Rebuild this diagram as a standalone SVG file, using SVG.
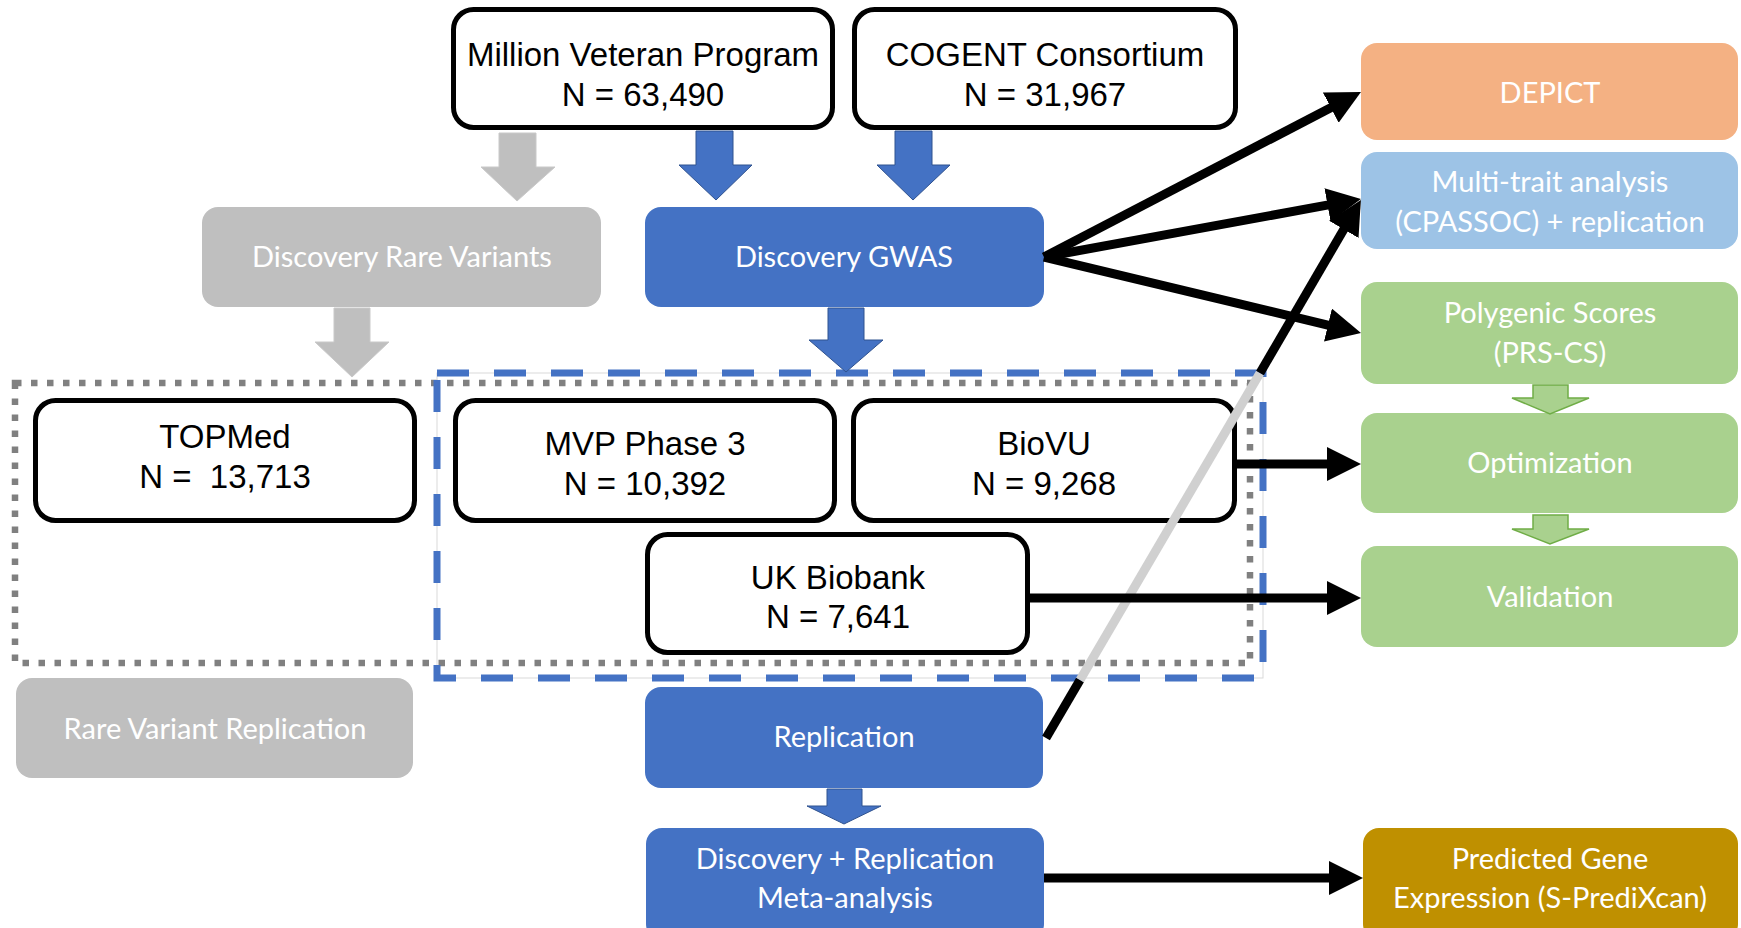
<svg xmlns="http://www.w3.org/2000/svg" width="1741" height="928" viewBox="0 0 1741 928">
<defs>
<style>
.bb{fill:#fff;stroke:#000;stroke-width:5}
.bt{font-family:"Liberation Sans",Arial,sans-serif;font-size:33px;fill:#000;text-anchor:middle}
.ct{font-family:Lato,"Open Sans",sans-serif;font-size:29px;fill:#fff;text-anchor:middle}
.blue{fill:#4472C4}
.gray{fill:#BFBFBF}
.barrow{fill:#4472C4;stroke:#2F528F;stroke-width:1}
.garrow{fill:#BFBFBF;stroke:#C9C9C9;stroke-width:1}
.grarrow{fill:#A9D18E;stroke:#70AD47;stroke-width:1.5}
.con{stroke:#000;stroke-width:9;fill:none}
</style>
<marker id="ah" viewBox="0 0 34 34" markerWidth="34" markerHeight="34" markerUnits="userSpaceOnUse" refX="1" refY="17" orient="auto"><path d="M0,0 L34,17 L0,34 z" fill="#000"/></marker>
</defs>
<rect width="1741" height="928" fill="#fff"/>

<g id="group-boxes">
<rect x="15" y="383" width="1235" height="280" fill="none" stroke="#808080" stroke-width="6.5" stroke-dasharray="6.5 9.5"/>
<rect x="437" y="373" width="826" height="305" fill="none" stroke="#D9D9D9" stroke-width="1"/>
<rect x="437" y="373" width="826" height="305" fill="none" stroke="#4472C4" stroke-width="7" stroke-dasharray="32 25"/>
</g>

<g id="mvp"><rect class="bb" x="453.5" y="9.5" width="379" height="118" rx="20"/><text class="bt" x="643" y="66">Million Veteran Program</text><text class="bt" x="643" y="106">N = 63,490</text></g>
<g id="cogent"><rect class="bb" x="854.5" y="9.5" width="381" height="118" rx="20"/><text class="bt" x="1045" y="66">COGENT Consortium</text><text class="bt" x="1045" y="106">N = 31,967</text></g>
<g id="rare-discovery"><rect class="gray" x="202" y="207" width="399" height="100" rx="16"/><text class="ct" x="402" y="267">Discovery Rare Variants</text></g>
<g id="gwas"><rect class="blue" x="645" y="207" width="399" height="100" rx="16"/><text class="ct" x="844" y="267">Discovery GWAS</text></g>
<g id="topmed"><rect class="bb" x="35.5" y="400.5" width="379" height="120" rx="20"/><text class="bt" x="225" y="448">TOPMed</text><text class="bt" x="225" y="488" xml:space="preserve">N =  13,713</text></g>
<g id="mvp3"><rect class="bb" x="455.5" y="400.5" width="379" height="120" rx="20"/><text class="bt" x="645" y="455">MVP Phase 3</text><text class="bt" x="645" y="495">N = 10,392</text></g>
<g id="biovu"><rect class="bb" x="853.5" y="400.5" width="381" height="120" rx="20"/><text class="bt" x="1044" y="455">BioVU</text><text class="bt" x="1044" y="495">N = 9,268</text></g>
<g id="ukb"><rect class="bb" x="647.5" y="534.5" width="380" height="118" rx="20"/><text class="bt" x="838" y="589">UK Biobank</text><text class="bt" x="838" y="628">N = 7,641</text></g>
<g id="rare-replication"><rect class="gray" x="16" y="678" width="397" height="100" rx="16"/><text class="ct" x="215" y="739">Rare Variant Replication</text></g>
<g id="replication"><rect class="blue" x="645" y="687" width="398" height="101" rx="16"/><text class="ct" x="844" y="747">Replication</text></g>
<g id="meta"><rect class="blue" x="646" y="828" width="398" height="112" rx="16"/><text class="ct" x="845" y="869">Discovery + Replication</text><text class="ct" x="845" y="908">Meta-analysis</text></g>
<g id="depict"><rect fill="#F4B183" x="1361" y="43" width="377" height="97" rx="16"/><text class="ct" x="1550" y="103">DEPICT</text></g>
<g id="multitrait"><rect fill="#9DC3E6" x="1361" y="152" width="377" height="97" rx="16"/><text class="ct" x="1550" y="192">Multi-trait analysis</text><text class="ct" x="1550" y="232">(CPASSOC) + replication</text></g>
<g id="prs"><rect fill="#A9D18E" x="1361" y="282" width="377" height="102" rx="16"/><text class="ct" x="1550" y="323">Polygenic Scores</text><text class="ct" x="1550" y="363">(PRS-CS)</text></g>
<g id="optimization"><rect fill="#A9D18E" x="1361" y="413" width="377" height="100" rx="16"/><text class="ct" x="1550" y="473">Optimization</text></g>
<g id="validation"><rect fill="#A9D18E" x="1361" y="546" width="377" height="101" rx="16"/><text class="ct" x="1550" y="607">Validation</text></g>
<g id="prediXcan"><rect fill="#BF9000" x="1363" y="828" width="375" height="112" rx="16"/><text class="ct" x="1550" y="869">Predicted Gene</text><text class="ct" x="1550" y="908">Expression (S-PrediXcan)</text></g>

<g id="connectors">
<polygon class="garrow" points="499,133 536,133 536,167 555,167 517,201 481,167 499,167"/>
<polygon class="barrow" points="696,131 733,131 733,165 752,165 716,200 679,165 696,165"/>
<polygon class="barrow" points="895,131 932,131 932,165 950,165 913,200 877,165 895,165"/>
<polygon class="barrow" points="828,308 864,308 864,340 883,340 846,372 809,340 828,340"/>
<polygon class="garrow" points="334,308 370,308 370,342 389,342 352,377 315,342 334,342"/>
<polygon class="barrow" points="827,789 862,789 862,806 881,806 844,824 807,806 827,806"/>
<polygon class="grarrow" points="1533,385 1568,385 1568,398 1589,398 1550,414 1512,398 1533,398"/>
<polygon class="grarrow" points="1533,515 1568,515 1568,529 1589,529 1550,544 1512,529 1533,529"/>
<line class="con" x1="1044" y1="257" x2="1331.7" y2="107.2" marker-end="url(#ah)"/>
<line class="con" x1="1044" y1="257" x2="1328.5" y2="204.9" marker-end="url(#ah)"/>
<line class="con" x1="1044" y1="257" x2="1328.9" y2="325.3" marker-end="url(#ah)"/>
<line class="con" x1="1046" y1="738" x2="1080" y2="680"/>
<line x1="1080" y1="680" x2="1260" y2="373" stroke="#D0D0D0" stroke-width="9"/>
<line class="con" x1="1260" y1="373" x2="1344.3" y2="228.5" marker-end="url(#ah)"/>
<line class="con" x1="1237" y1="464" x2="1328" y2="464" marker-end="url(#ah)"/>
<line class="con" x1="1030" y1="598" x2="1328" y2="598" marker-end="url(#ah)"/>
<line class="con" x1="1044" y1="878" x2="1330" y2="878" marker-end="url(#ah)"/>
</g>
</svg>
